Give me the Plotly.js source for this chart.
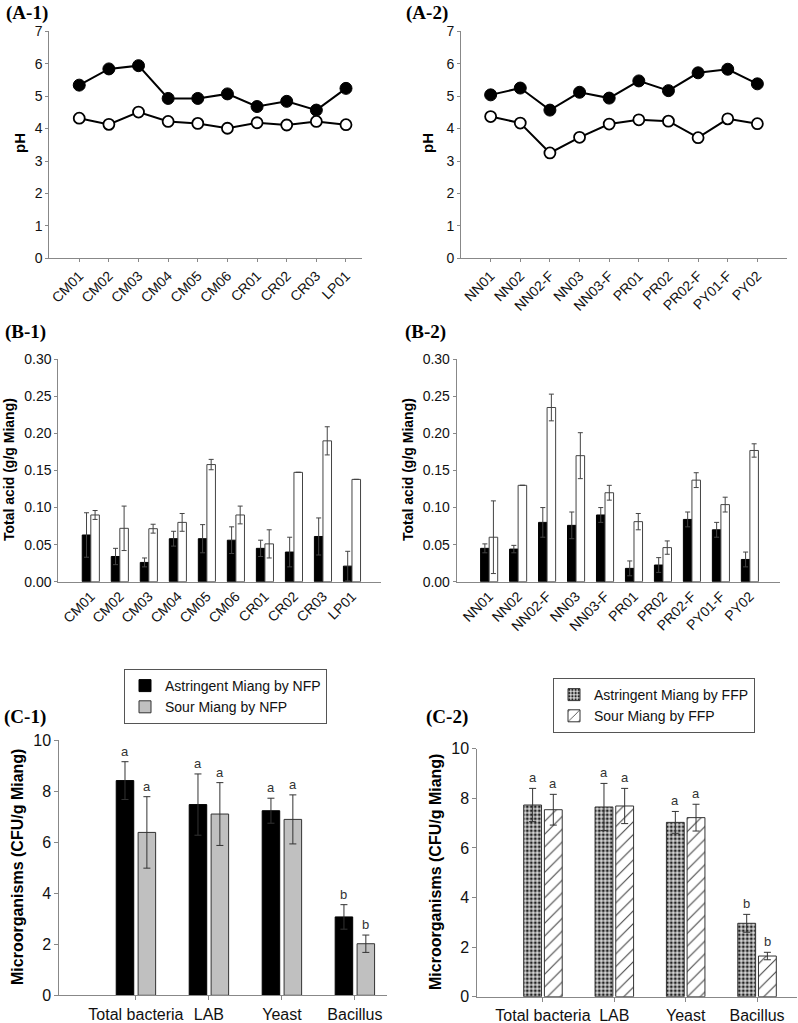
<!DOCTYPE html>
<html>
<head>
<meta charset="utf-8">
<script src="https://cdn.plot.ly/plotly-3.0.1.min.js"></script>
<style>
html,body{margin:0;padding:0;background:#fff;}
#chart{width:798px;height:1023px;}
</style>
</head>
<body>
<div id="chart"></div>
<script>
// ---------- DATA ----------
var catsA1 = ['CM01','CM02','CM03','CM04','CM05','CM06','CR01','CR02','CR03','LP01'];
var catsA2 = ['NN01','NN02','NN02-F','NN03','NN03-F','PR01','PR02','PR02-F','PY01-F','PY02'];

var phAstr1 = [5.34,5.84,5.94,4.93,4.93,5.07,4.68,4.84,4.57,5.24];
var phSour1 = [4.32,4.13,4.51,4.22,4.16,4.01,4.18,4.11,4.22,4.12];
var phAstr2 = [5.04,5.25,4.57,5.12,4.94,5.47,5.17,5.72,5.83,5.38];
var phSour2 = [4.37,4.17,3.25,3.73,4.14,4.27,4.23,3.72,4.30,4.15];

var acidAstr1    = [0.063,0.034,0.026,0.058,0.058,0.056,0.045,0.040,0.061,0.021];
var acidAstr1Err = [0.030,0.011,0.006,0.010,0.019,0.018,0.011,0.020,0.025,0.020];
var acidSour1    = [0.090,0.072,0.0715,0.080,0.158,0.090,0.051,0.1475,0.190,0.138];
var acidSour1Err = [0.006,0.030,0.006,0.012,0.007,0.012,0.019,0,0.019,0];

var acidAstr2    = [0.045,0.044,0.080,0.076,0.090,0.018,0.0225,0.084,0.070,0.030];
var acidAstr2Err = [0.006,0.005,0.020,0.018,0.010,0.010,0.010,0.010,0.010,0.010];
var acidSour2    = [0.060,0.130,0.235,0.170,0.120,0.081,0.046,0.137,0.104,0.177];
var acidSour2Err = [0.049,0,0.018,0.031,0.010,0.011,0.009,0.010,0.010,0.009];

var microCats = ['Total bacteria','LAB','Yeast','Bacillus'];
var nfpAstr    = [8.41,7.47,7.23,3.07];
var nfpAstrErr = [0.74,1.20,0.49,0.48];
var nfpSour    = [6.38,7.10,6.89,2.02];
var nfpSourErr = [1.40,1.23,0.96,0.34];
var ffpAstr    = [7.73,7.65,7.03,2.96];
var ffpAstrErr = [0.67,0.95,0.44,0.36];
var ffpSour    = [7.54,7.69,7.22,1.64];
var ffpSourErr = [0.62,0.71,0.54,0.15];
var nfpAstrLetters = ['a','a','a','b'];
var nfpSourLetters = ['a','a','a','b'];
var ffpAstrLetters = ['a','a','a','b'];
var ffpSourLetters = ['a','a','a','b'];

var seriesNames = {
  nfpA: 'Astringent Miang by NFP', nfpS: 'Sour Miang by NFP',
  ffpA: 'Astringent Miang by FFP', ffpS: 'Sour Miang by FFP'
};
var panelLabels = ['(A-1)','(A-2)','(B-1)','(B-2)','(C-1)','(C-2)'];
var titlePH = 'pH';
var titleAcid = 'Total acid (g/g Miang)';
var titleMicro = 'Microorganisms (CFU/g Miang)';

// ---------- STYLE ----------
var W = 798, H = 1023;
var SANS = '"Liberation Sans", Arial, sans-serif';
var SERIF = '"Liberation Serif", "Times New Roman", serif';
var AX = '#888';
var TXT = '#111';
function px(x){return x/W;}
function py(y){return 1 - y/H;}

// ---------- TRACES ----------
var traces = [];
function phPair(cats, a, s, xa, ya){
  traces.push({type:'scatter', mode:'lines+markers', x:cats, y:a, xaxis:xa, yaxis:ya,
    showlegend:false, line:{color:'#000', width:2},
    marker:{size:12, color:'#000', line:{color:'#000', width:1}}});
  traces.push({type:'scatter', mode:'lines+markers', x:cats, y:s, xaxis:xa, yaxis:ya,
    showlegend:false, line:{color:'#000', width:2},
    marker:{size:11, color:'#fff', line:{color:'#000', width:1.8}}});
}
phPair(catsA1, phAstr1, phSour1, 'x', 'y');
phPair(catsA2, phAstr2, phSour2, 'x2', 'y2');

function acidPair(cats, a, ae, s, se, xa, ya){
  traces.push({type:'bar', x:cats, y:a, xaxis:xa, yaxis:ya, showlegend:false,
    marker:{color:'#000', line:{color:'#000', width:1}},
    error_y:{type:'data', array:ae, visible:true, color:'#444', thickness:1, width:2.5}});
  traces.push({type:'bar', x:cats, y:s, xaxis:xa, yaxis:ya, showlegend:false,
    marker:{color:'#fff', line:{color:'#444', width:1}},
    error_y:{type:'data', array:se, visible:true, color:'#444', thickness:1, width:2.5}});
}
acidPair(catsA1, acidAstr1, acidAstr1Err, acidSour1, acidSour1Err, 'x3', 'y3');
acidPair(catsA2, acidAstr2, acidAstr2Err, acidSour2, acidSour2Err, 'x4', 'y4');

var C1W = 0.24, C1OffA = -0.27, C1OffS = 0.03;
var C2W = 0.25, C2OffA = -0.27, C2OffS = 0.02;
var errC = {color:'#333', thickness:1, width:3.5};
traces.push({type:'bar', name:seriesNames.nfpA, x:microCats, y:nfpAstr, xaxis:'x5', yaxis:'y5',
  width:C1W, offset:C1OffA, legend:'legend',
  marker:{color:'#000', line:{color:'#000', width:1}},
  error_y:Object.assign({type:'data', array:nfpAstrErr, visible:true}, errC)});
traces.push({type:'bar', name:seriesNames.nfpS, x:microCats, y:nfpSour, xaxis:'x5', yaxis:'y5',
  width:C1W, offset:C1OffS, legend:'legend',
  marker:{color:'#c0c0c0', line:{color:'#333', width:1}},
  error_y:Object.assign({type:'data', array:nfpSourErr, visible:true}, errC)});
traces.push({type:'bar', name:seriesNames.ffpA, x:microCats, y:ffpAstr, xaxis:'x6', yaxis:'y6',
  width:C2W, offset:C2OffA, legend:'legend2',
  marker:{color:'#cfcfcf', line:{color:'#333', width:1},
    pattern:{shape:'.', fgcolor:'#222', bgcolor:'#d8d8d8', size:4, solidity:0.45}},
  error_y:Object.assign({type:'data', array:ffpAstrErr, visible:true}, errC)});
traces.push({type:'bar', name:seriesNames.ffpS, x:microCats, y:ffpSour, xaxis:'x6', yaxis:'y6',
  width:C2W, offset:C2OffS, legend:'legend2',
  marker:{color:'#fff', line:{color:'#333', width:1},
    pattern:{shape:'/', fgcolor:'#444', bgcolor:'#fff', size:9, solidity:0.12}},
  error_y:Object.assign({type:'data', array:ffpSourErr, visible:true}, errC)});

// ---------- AXES ----------
function xAxis(dom, rng, opts){
  return Object.assign({domain:dom, type:'category', range:rng, showline:true, linecolor:AX, linewidth:1,
    showgrid:false, zeroline:false, ticks:'outside', ticklen:3, tickcolor:AX, tickangle:-45,
    tickfont:{family:SANS, size:14, color:TXT}, fixedrange:true}, opts||{});
}
function yAxis(dom, rng, dtick, opts){
  return Object.assign({domain:dom, range:rng, dtick:dtick, showline:true, linecolor:AX, linewidth:1,
    showgrid:false, zeroline:false, ticks:'outside', ticklen:3, tickcolor:AX,
    tickfont:{family:SANS, size:14, color:TXT}, fixedrange:true}, opts||{});
}
var yA = [py(258.3), py(31.3)];
var yB = [py(581.7), py(359.3)];

var layout = {
  width:W, height:H, margin:{l:0,r:0,t:0,b:0},
  paper_bgcolor:'#fff', plot_bgcolor:'#fff',
  barmode:'group', bargap:0.41, bargroupgap:0,
  showlegend:true,
  xaxis:  xAxis([px(49.3), px(361.7)], [-1.01, 9.53], {anchor:'y'}),
  yaxis:  yAxis(yA, [0,7], 1, {anchor:'x'}),
  xaxis2: xAxis([px(461), px(787)], [-1.0, 10.0], {anchor:'y2'}),
  yaxis2: yAxis(yA, [0,7], 1, {anchor:'x2'}),
  xaxis3: xAxis([px(58.3), px(381)], [-1.12, 10.0], {anchor:'y3', ticks:''}),
  yaxis3: yAxis(yB, [0,0.30], 0.05, {anchor:'x3', tickformat:'.2f'}),
  xaxis4: xAxis([px(456.7), px(780)], [-1.12, 10.04], {anchor:'y4', ticks:''}),
  yaxis4: yAxis(yB, [0,0.30], 0.05, {anchor:'x4', tickformat:'.2f'}),
  xaxis5: xAxis([px(59.3), px(387)], [-1.05, 3.44], {anchor:'y5', tickangle:0, ticklen:4,
    tickfont:{family:SANS,size:16,color:TXT}}),
  yaxis5: yAxis([py(995.3), py(740)], [0,10], 2, {anchor:'x5', ticklen:4, tickfont:{family:SANS,size:16,color:TXT}}),
  xaxis6: xAxis([px(477.3), px(797)], [-0.92, 3.56], {anchor:'y6', tickangle:0, ticklen:4,
    tickfont:{family:SANS,size:16,color:TXT}}),
  yaxis6: yAxis([py(996.7), py(748.7)], [0,10], 2, {anchor:'x6', ticklen:4, tickfont:{family:SANS,size:16,color:TXT}}),
  legend:{x:px(124), y:py(669), xanchor:'left', yanchor:'top', bgcolor:'#fff',
    bordercolor:'#555', borderwidth:1, font:{family:SANS, size:14, color:TXT},
    tracegroupgap:0, traceorder:'normal'},
  legend2:{x:px(553), y:py(678), xanchor:'left', yanchor:'top', bgcolor:'#fff',
    bordercolor:'#555', borderwidth:1, font:{family:SANS, size:14, color:TXT},
    tracegroupgap:0, traceorder:'normal'},
  annotations:[]
};

// panel labels
var panelPos = [[4,13],[404,13],[3,332],[403,332],[2,717],[424,717]];
panelLabels.forEach(function(t,i){
  layout.annotations.push({xref:'paper', yref:'paper', x:px(panelPos[i][0]), y:py(panelPos[i][1]),
    xanchor:'left', yanchor:'middle', showarrow:false, text:'<b>'+t+'</b>',
    font:{family:SERIF, size:19, color:'#000'}});
});
// axis titles
function yTitle(t, x, y, size){
  layout.annotations.push({xref:'paper', yref:'paper', x:px(x), y:py(y), xanchor:'center', yanchor:'middle',
    showarrow:false, textangle:-90, text:'<b>'+t+'</b>', font:{family:SANS, size:size, color:'#000'}});
}
yTitle(titlePH, 19, 143, 15);
yTitle(titlePH, 427, 143, 15);
yTitle(titleAcid, 9, 470, 14);
yTitle(titleAcid, 408, 470, 14);
yTitle(titleMicro, 17, 867, 16);
yTitle(titleMicro, 435, 872, 16);

// significance letters
function letters(xref, yref, vals, errs, lets, off, w){
  vals.forEach(function(v,i){
    layout.annotations.push({xref:xref, yref:yref, x:i+off+w/2, y:v+errs[i], xanchor:'center', yanchor:'bottom',
      yshift:1, showarrow:false, text:lets[i], font:{family:SANS, size:13, color:'#333'}});
  });
}
letters('x5','y5', nfpAstr, nfpAstrErr, nfpAstrLetters, C1OffA, C1W);
letters('x5','y5', nfpSour, nfpSourErr, nfpSourLetters, C1OffS, C1W);
letters('x6','y6', ffpAstr, ffpAstrErr, ffpAstrLetters, C2OffA, C2W);
letters('x6','y6', ffpSour, ffpSourErr, ffpSourLetters, C2OffS, C2W);

Plotly.newPlot('chart', traces, layout, {displayModeBar:false, staticPlot:true});
</script>
</body>
</html>
